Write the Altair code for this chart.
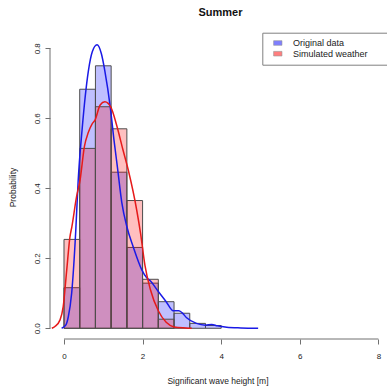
import altair as alt
import pandas as pd

# ---------------- data ----------------
bin_starts = [0.0, 0.4, 0.8, 1.2, 1.6, 2.0, 2.4, 2.8, 3.2, 3.6]
bin_width = 0.4
orig_hist = [0.116, 0.683, 0.750, 0.446, 0.231, 0.129, 0.076, 0.043, 0.014, 0.008]
sim_hist = [0.254, 0.514, 0.633, 0.570, 0.365, 0.140, 0.026, 0.0, 0.0, 0.0]

orig_dens_x = [-0.06, 0.05, 0.11, 0.195, 0.30, 0.36, 0.46, 0.62, 0.72, 0.84, 0.95, 1.04,
               1.18, 1.27, 1.36, 1.47, 1.60, 1.76, 1.98, 2.10, 2.20, 2.40, 2.60, 2.78,
               2.92, 3.00, 3.12, 3.37, 3.60, 3.76, 3.90, 4.14, 4.50, 4.94]
orig_dens_y = [0.0, 0.01, 0.033, 0.10, 0.28, 0.42, 0.567, 0.735, 0.79, 0.81, 0.785, 0.735,
               0.63, 0.54, 0.46, 0.36, 0.29, 0.233, 0.167, 0.145, 0.135, 0.105, 0.076, 0.05,
               0.05, 0.045, 0.03, 0.014, 0.009, 0.011, 0.007, 0.003, 0.001, 0.0]

sim_dens_x = [-0.31, -0.23, -0.10, -0.02, 0.07, 0.15, 0.20, 0.32, 0.41, 0.52, 0.62, 0.72,
              0.79, 0.92, 1.04, 1.20, 1.34, 1.50, 1.64, 1.85, 1.95, 2.06, 2.20, 2.40,
              2.60, 2.80, 3.10, 3.25]
sim_dens_y = [0.0, 0.005, 0.024, 0.062, 0.167, 0.26, 0.29, 0.376, 0.424, 0.52, 0.56, 0.585,
              0.595, 0.638, 0.647, 0.63, 0.58, 0.51, 0.45, 0.338, 0.27, 0.18, 0.11, 0.05,
              0.017, 0.004, 0.001, 0.0]

series_names = ["Original data", "Simulated weather"]
x_ticks = [0, 2, 4, 6, 8]
y_ticks = [0.0, 0.2, 0.4, 0.6, 0.8]

# ---------------- tables ----------------
rows = []
for name, vals in zip(series_names, [orig_hist, sim_hist]):
    for s, v in zip(bin_starts, vals):
        if v > 0:
            rows.append({"start": s, "end": s + bin_width, "prob": v, "series": name})
hist_df = pd.DataFrame(rows)

dens_rows = []
for name, xs, ys in zip(series_names, [orig_dens_x, sim_dens_x], [orig_dens_y, sim_dens_y]):
    for x, y in zip(xs, ys):
        dens_rows.append({"x": x, "y": y, "series": name})
dens_df = pd.DataFrame(dens_rows)

W, H = 335, 304
FONT = "Liberation Sans"

xscale = alt.Scale(domain=[-0.356, 8.168], nice=False, zero=False)
yscale = alt.Scale(domain=[-0.0306, 0.838], nice=False, zero=False)

x_axis = alt.Axis(values=x_ticks, format="d", grid=False, domain=False,
                  tickColor="#707070", tickSize=5, labelFont=FONT, labelFontSize=8,
                  labelColor="#222", labelPadding=8.5, labelBaseline="top",
                  title="Significant wave height [m]", titleFont=FONT, titleFontSize=8.5,
                  titleFontWeight="normal", titleColor="#222", titleBaseline="alphabetic",
                  titleY=44.3)
y_axis = alt.Axis(values=y_ticks, format=".1f", grid=False, domain=False,
                  tickColor="#707070", tickSize=5, labelFont=FONT, labelFontSize=8,
                  labelColor="#222", labelAngle=270, labelAlign="center",
                  labelBaseline="alphabetic", labelPadding=6,
                  title="Probability", titleFont=FONT, titleFontSize=8.5,
                  titleFontWeight="normal", titleColor="#222", titleAngle=270,
                  titleAlign="center", titleBaseline="alphabetic", titleX=-35, titleY=152)

bars = alt.Chart(hist_df).mark_bar(
    fillOpacity=0.25, stroke="#4d4d4d", strokeWidth=1
).encode(
    x=alt.X("start:Q", scale=xscale, axis=x_axis),
    x2="end:Q",
    y=alt.Y("prob:Q", scale=yscale, axis=y_axis),
    y2=alt.datum(0),
    fill=alt.Fill("series:N",
                  scale=alt.Scale(domain=series_names, range=["#0000ff", "#ff0000"]),
                  legend=alt.Legend(
                      title="--", titleOrient="right", titleColor="transparent",
                      titleFontSize=9, titlePadding=12,
                      orient="none", legendX=212.3, legendY=-2.3,
                      symbolType="M-1,-0.55H1V0.55H-1Z", symbolSize=70,
                      symbolOpacity=0.5, symbolStrokeWidth=0.6, symbolStrokeColor="#333",
                      symbolOffset=5.2, padding=5.8, labelOffset=10.6,
                      rowPadding=0.7, labelFont=FONT, labelFontSize=9, labelColor="#222",
                      strokeColor="#808080", fillColor="white", cornerRadius=0)),
    order=alt.Order("series:N")
)

lines = alt.Chart(dens_df).mark_line(strokeWidth=1.5, interpolate="monotone").encode(
    x=alt.X("x:Q", scale=xscale),
    y=alt.Y("y:Q", scale=yscale),
    stroke=alt.Stroke("series:N",
                      scale=alt.Scale(domain=series_names, range=["#1a1ae6", "#e61a1a"]),
                      legend=None),
)

one = pd.DataFrame({"a": [0]})
x_line = alt.Chart(one).mark_rule(color="#707070", strokeWidth=1).encode(
    x=alt.datum(0, scale=xscale), x2=alt.datum(8), y=alt.value(H)
)
y_line = alt.Chart(one).mark_rule(color="#707070", strokeWidth=1).encode(
    y=alt.datum(0, scale=yscale), y2=alt.datum(0.8), x=alt.value(0)
)

chart = alt.layer(bars, lines, x_line, y_line).resolve_scale(
    fill="independent", stroke="independent"
).properties(
    width=W, height=H,
    autosize=alt.AutoSizeParams(type="none"),
    padding={"left": 50, "top": 35, "right": 2, "bottom": 47},
    background="white",
    title=alt.TitleParams("Summer", font=FONT, fontSize=11, fontWeight="bold",
                          color="#111", anchor="middle", dx=3, offset=5,
                          baseline="alphabetic", frame="group"),
).configure_view(stroke=None)

chart.save("out.html", embed_options={"renderer": "svg", "actions": False})
